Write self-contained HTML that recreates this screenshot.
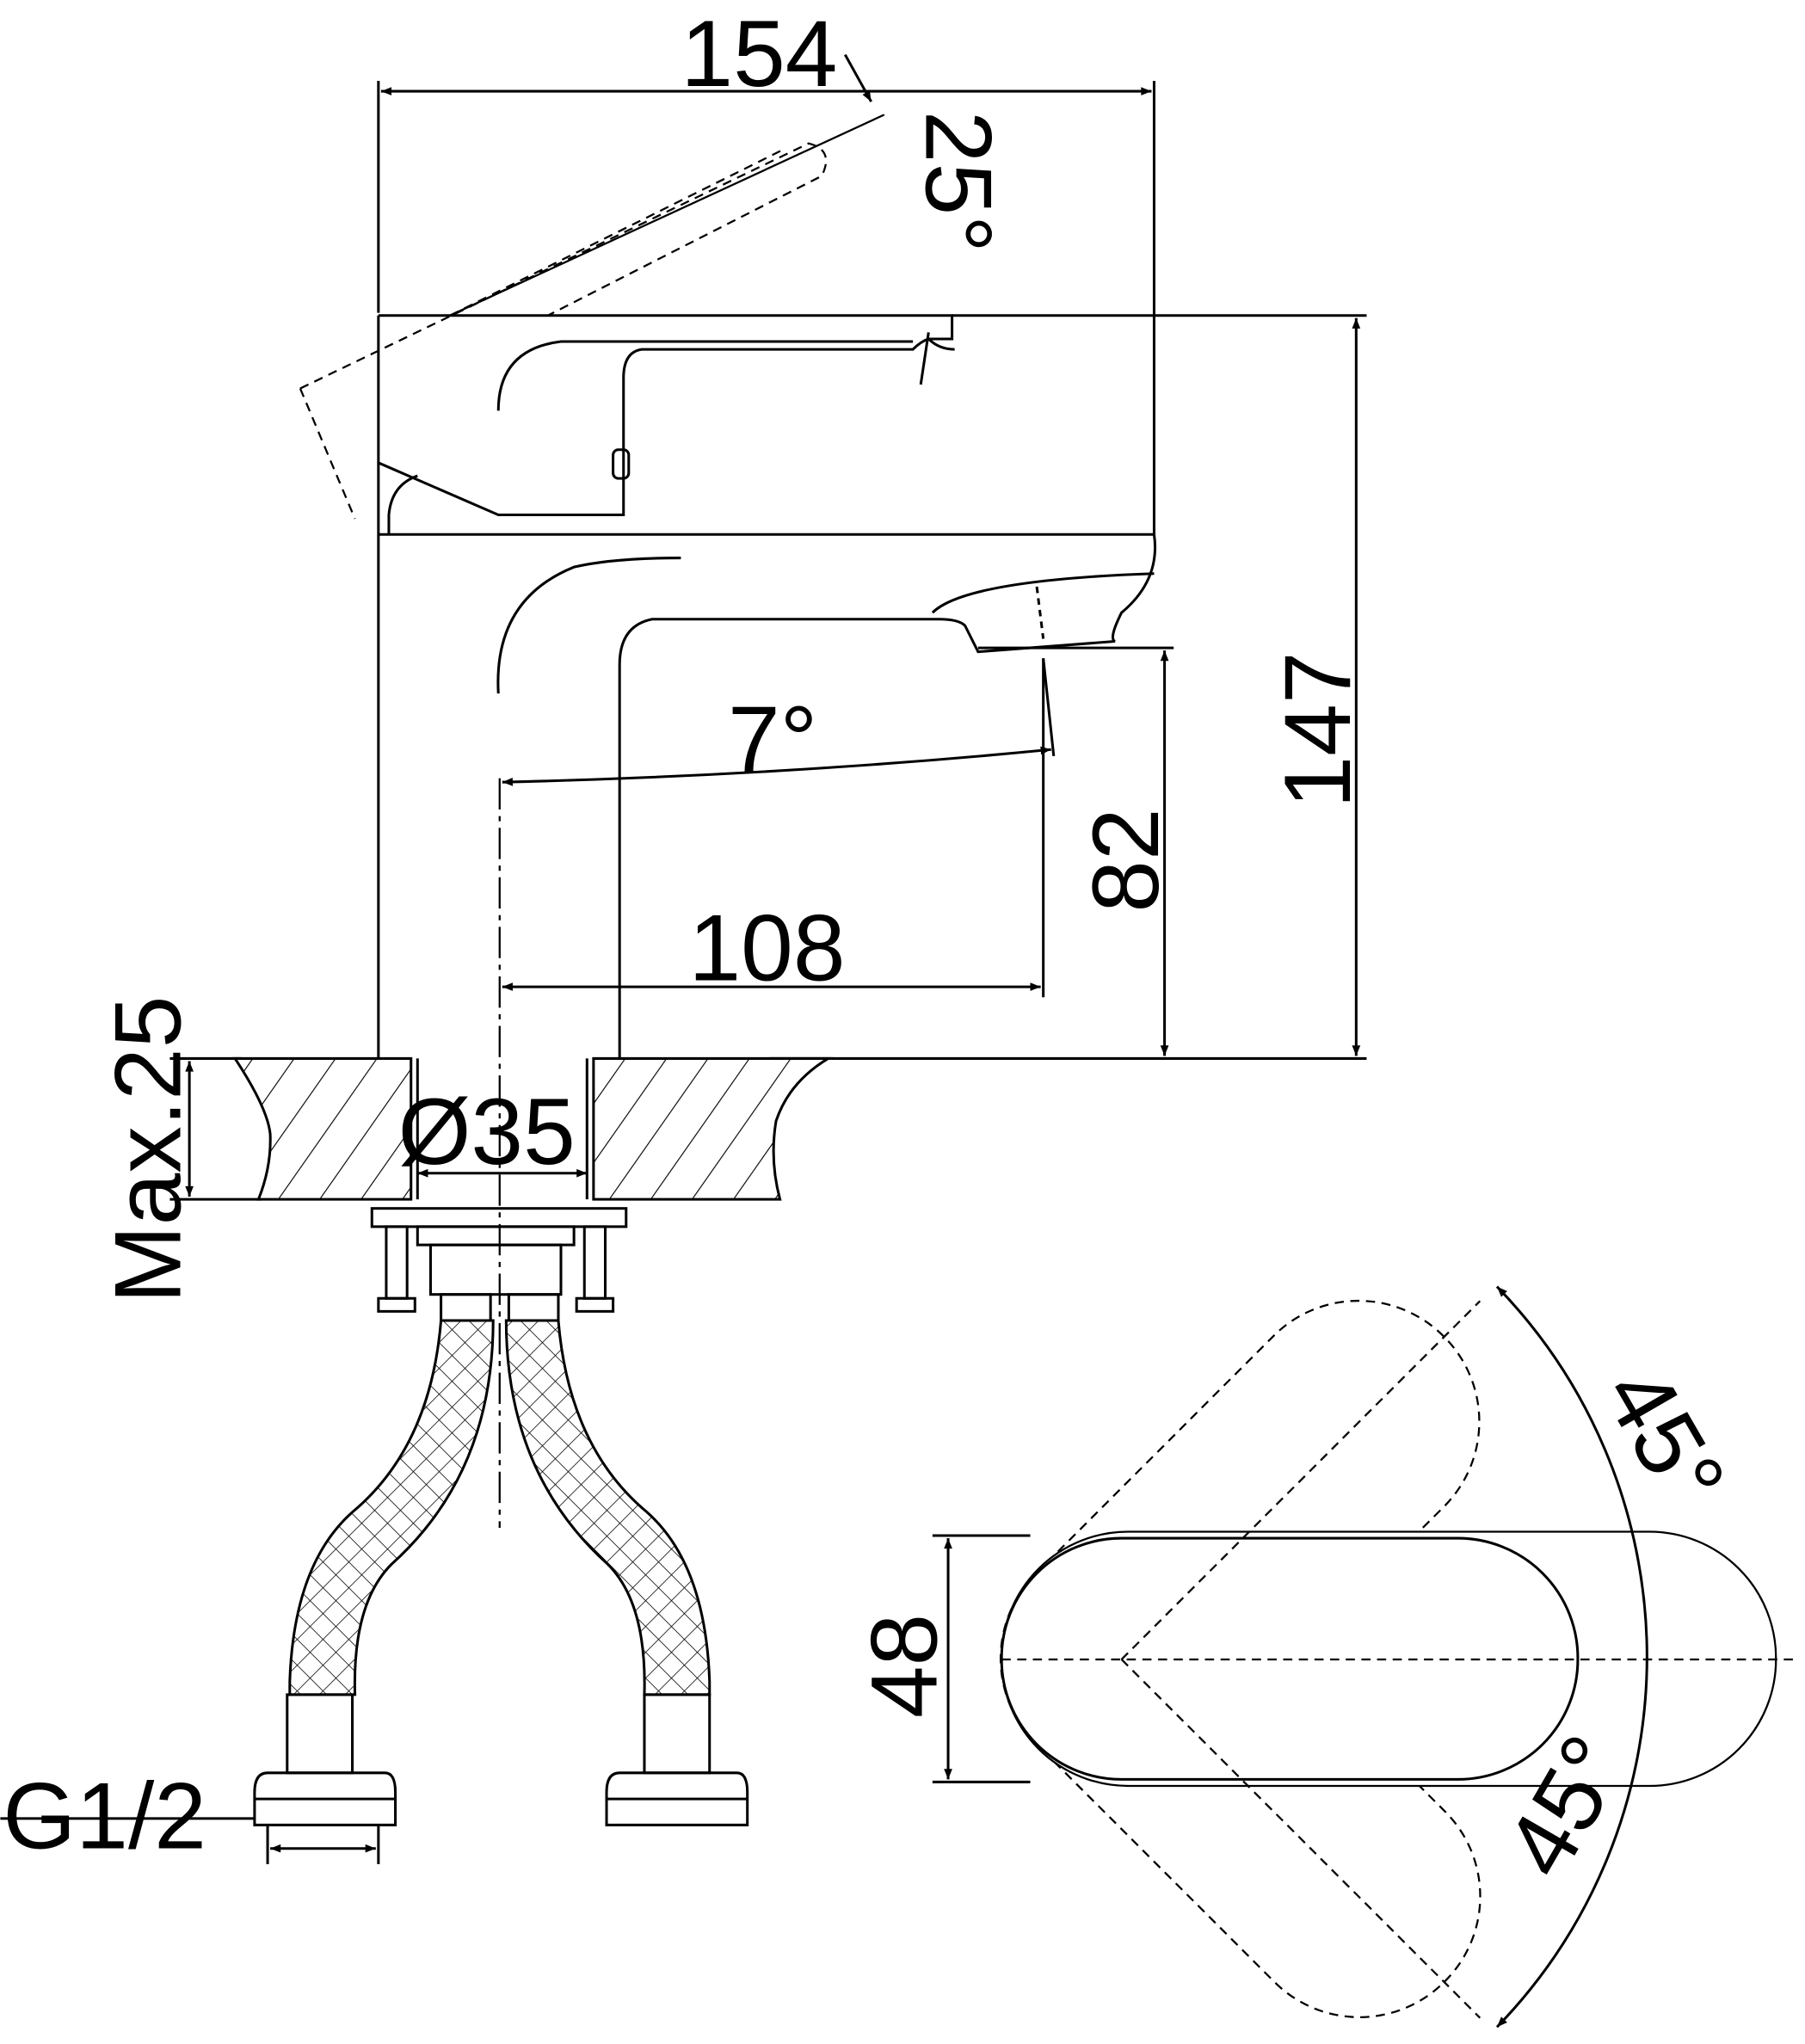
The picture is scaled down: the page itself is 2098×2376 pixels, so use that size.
<!DOCTYPE html>
<html><head><meta charset="utf-8"><style>
html,body{margin:0;padding:0;background:#fff;overflow:hidden}
svg{display:block}
text{font-family:"Liberation Sans",sans-serif;fill:#000}
</style></head><body>
<svg width="2098" height="2376" viewBox="0 0 1384 1568" xmlns="http://www.w3.org/2000/svg">
<defs>
<marker id="a" viewBox="0 0 10 10" refX="10" refY="5" markerWidth="14" markerHeight="8" orient="auto-start-reverse" markerUnits="userSpaceOnUse"><path d="M0,1 L10,5 L0,9 Z" fill="#000"/></marker>
<pattern id="h" width="26" height="26" patternUnits="userSpaceOnUse" patternTransform="rotate(35)"><line x1="0" y1="0" x2="0" y2="26" stroke="#000" stroke-width="1.5"/></pattern>
<pattern id="x" width="14" height="14" patternUnits="userSpaceOnUse" patternTransform="rotate(45)"><path d="M0 0V14M0 0H14" stroke="#000" stroke-width="1"/></pattern>
</defs>
<g fill="none" stroke="#000" stroke-width="2">
<line x1="290" y1="240" x2="290" y2="62"/>
<line x1="885" y1="410" x2="885" y2="62"/>
<line x1="292" y1="70" x2="883" y2="70" marker-start="url(#a)" marker-end="url(#a)"/>
<line x1="648" y1="42" x2="668" y2="78" marker-end="url(#a)"/>
<path d="M230 298 L272 398 M230 298 L620 110 Q640 115 630 135 L420 242 M345 242 L600 115" stroke-dasharray="7 5" stroke-width="1.5"/>
<line x1="345" y1="242" x2="678" y2="88" stroke-width="1.5"/>
<path d="M290 242 H730 V260 H712 Q706 262 700 268 L492 268 Q478 270 478 290 V395 L382 395 L290 355"/>
<path d="M382 315 Q382 268 430 262 L700 262"/>
<path d="M712 260 Q720 268 732 268"/>
<path d="M712 255 L706 295"/>
<rect x="470" y="345" width="12" height="22" rx="4"/>
<path d="M298 410 V395 Q300 372 320 365"/>
<line x1="290" y1="242" x2="290" y2="812"/>
<path d="M290 410 H885 Q890 445 860 470 Q850 490 855 492 L750 500 L740 480 Q735 475 720 475 L500 475 Q475 480 475 510 V812"/>
<path d="M382 532 Q378 460 440 435 Q470 428 522 428"/>
<path d="M715 470 Q740 445 885 440"/>
<path d="M795 450 L800 490" stroke-dasharray="5 4"/>
<line x1="730" y1="242" x2="1048" y2="242"/>
<line x1="590" y1="812" x2="1048" y2="812"/>
<line x1="1040" y1="244" x2="1040" y2="810" marker-start="url(#a)" marker-end="url(#a)"/>
<line x1="750" y1="497" x2="900" y2="497"/>
<line x1="893" y1="499" x2="893" y2="810" marker-start="url(#a)" marker-end="url(#a)"/>
<line x1="800" y1="505" x2="800" y2="765"/>
<line x1="800" y1="505" x2="808" y2="580" />
<line x1="385" y1="757" x2="798" y2="757" marker-start="url(#a)" marker-end="url(#a)"/>
<path d="M385 600 Q600 595 806 575" marker-start="url(#a)" marker-end="url(#a)"/>
<line x1="383" y1="597" x2="383" y2="1172" stroke-dasharray="24 5 4 5" stroke-width="1.5"/>
<path d="M180 812 Q205 850 207 870 Q208 895 198 920 L315 920 L315 812 Z" fill="url(#h)"/>
<path d="M455 812 L635 812 Q605 830 595 860 Q590 890 598 920 L455 920 Z" fill="url(#h)"/>
<line x1="320" y1="812" x2="320" y2="920"/><line x1="450" y1="812" x2="450" y2="920"/>
<line x1="320" y1="900" x2="450" y2="900" marker-start="url(#a)" marker-end="url(#a)"/>
<line x1="130" y1="812" x2="185" y2="812"/><line x1="130" y1="920" x2="200" y2="920"/>
<line x1="145" y1="814" x2="145" y2="918" marker-start="url(#a)" marker-end="url(#a)"/>
<rect x="285" y="927" width="195" height="14"/>
<rect x="320" y="941" width="120" height="14"/>
<rect x="330" y="955" width="100" height="38"/>
<rect x="296" y="941" width="16" height="55"/><rect x="448" y="941" width="16" height="55"/>
<path d="M290 996 H318 V1006 H290Z M442 996 H470 V1006 H442Z"/>
<rect x="338" y="993" width="38" height="20"/><rect x="390" y="993" width="38" height="20"/>
<path d="M338 1013 Q330 1110 270 1160 Q225 1200 222 1290 L222 1300 L272 1300 Q270 1230 300 1200 Q378 1130 378 1013 Z" fill="url(#x)"/>
<path d="M428 1013 Q436 1110 496 1160 Q541 1200 544 1290 L544 1300 L494 1300 Q496 1230 466 1200 Q388 1130 388 1013 Z" fill="url(#x)"/>
<rect x="220" y="1300" width="50" height="60"/><rect x="494" y="1300" width="50" height="60"/>
<path d="M195 1375 Q195 1360 205 1360 H295 Q303 1360 303 1375 V1400 H195 Z"/>
<line x1="195" y1="1380" x2="303" y2="1380"/>
<path d="M465 1375 Q465 1360 475 1360 H565 Q573 1360 573 1375 V1400 H465 Z"/>
<line x1="465" y1="1380" x2="573" y2="1380"/>
<line x1="0" y1="1395" x2="195" y2="1395"/>
<line x1="205" y1="1400" x2="205" y2="1430"/><line x1="290" y1="1400" x2="290" y2="1430"/>
<line x1="207" y1="1418" x2="288" y2="1418" marker-start="url(#a)" marker-end="url(#a)"/>
<g stroke-dasharray="7 5" stroke-width="1.5">
<rect x="768" y="1180" width="442" height="185" rx="92" transform="rotate(-45 860 1273)"/>
<rect x="768" y="1180" width="442" height="185" rx="92" transform="rotate(45 860 1273)"/>
</g>
<rect x="768" y="1175" width="594" height="195" rx="97" stroke="none" fill="#fff"/>
<g stroke-dasharray="7 5" stroke-width="1.5">
<line x1="860" y1="1273" x2="1135" y2="998"/>
<line x1="860" y1="1273" x2="1135" y2="1548"/>
<line x1="768" y1="1273" x2="1380" y2="1273"/>
</g>
<rect x="768" y="1180" width="442" height="185" rx="92"/>
<rect x="768" y="1175" width="594" height="195" rx="97" stroke-width="1.5"/>
<path d="M1148 987 A408 408 0 0 1 1148 1555" marker-start="url(#a)" marker-end="url(#a)"/>
<line x1="715" y1="1178" x2="790" y2="1178"/><line x1="715" y1="1367" x2="790" y2="1367"/>
<line x1="727" y1="1180" x2="727" y2="1365" marker-start="url(#a)" marker-end="url(#a)"/>
</g>
<g font-size="72">
<text x="522" y="66">154</text>
<text x="528" y="752">108</text>
<text x="558" y="592">7°</text>
<text x="305" y="893">Ø35</text>
<text x="2" y="1418">G1/2</text>
<text transform="translate(710 200) rotate(90)" x="-115" y="0">25°</text>
<text transform="translate(1035 620) rotate(-90)">147</text>
<text transform="translate(888 700) rotate(-90)">82</text>
<text transform="translate(138 1000) rotate(-90)">Max.25</text>
<text transform="translate(718 1318) rotate(-90)">48</text>
<text transform="translate(1228 1068) rotate(60)">45°</text>
<text transform="translate(1195 1445) rotate(-60)">45°</text>
</g>
</svg>
</body></html>
